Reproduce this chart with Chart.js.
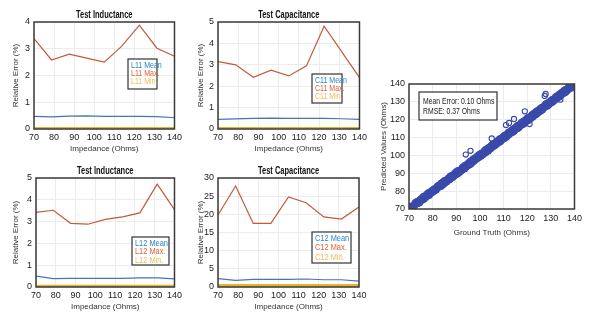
<!DOCTYPE html>
<html>
<head>
<meta charset="utf-8">
<script src="https://cdn.jsdelivr.net/npm/chart.js@4.4.1/dist/chart.umd.min.js"></script>
<style>
body { margin: 0; background: #fff; width: 600px; height: 334px; position: relative; overflow: hidden; }
canvas { position: absolute; }
</style>
</head>
<body>
<canvas id="l11" style="left:0px;top:0px"></canvas>
<canvas id="c11" style="left:185px;top:0px"></canvas>
<canvas id="l12" style="left:0px;top:156px"></canvas>
<canvas id="c12" style="left:185px;top:156px"></canvas>
<canvas id="scatter" style="left:370px;top:70px"></canvas>
<script>
// impedance sweep (Ohms)
const impedance = [70, 78.75, 87.5, 96.25, 105, 113.75, 122.5, 131.25, 140];

const l11Mean = [0.47, 0.45, 0.48, 0.49, 0.47, 0.47, 0.47, 0.46, 0.42];
const l11Max  = [3.38, 2.58, 2.80, 2.65, 2.50, 3.10, 3.88, 3.02, 2.72];
const l11Min  = [0.02, 0.02, 0.02, 0.02, 0.02, 0.02, 0.02, 0.02, 0.02];

const c11Mean = [0.45, 0.47, 0.50, 0.51, 0.50, 0.50, 0.50, 0.48, 0.45];
const c11Max  = [3.15, 3.00, 2.42, 2.75, 2.48, 2.95, 4.80, 3.60, 2.40];
const c11Min  = [0.02, 0.02, 0.02, 0.02, 0.02, 0.02, 0.02, 0.02, 0.02];

const l12Mean = [0.50, 0.38, 0.40, 0.40, 0.40, 0.40, 0.42, 0.42, 0.37];
const l12Max  = [3.42, 3.52, 2.92, 2.88, 3.10, 3.22, 3.40, 4.72, 3.55];
const l12Min  = [0.03, 0.03, 0.03, 0.03, 0.03, 0.03, 0.03, 0.03, 0.03];

const c12Mean = [2.3, 1.8, 2.1, 2.1, 2.1, 2.2, 2.0, 2.0, 1.6];
const c12Max  = [19.8, 27.8, 17.5, 17.5, 24.8, 23.2, 19.3, 18.7, 22.0];
const c12Min  = [0.4, 0.4, 0.4, 0.4, 0.4, 0.4, 0.4, 0.4, 0.4];

// ground truth vs predicted (Ohms), two predictions per truth value
const truthGrid = [
  70, 70.5, 71, 71.5, 72, 72.5, 73, 73.5, 74, 74.5,
  75, 75.5, 76, 76.5, 77, 77.5, 78, 78.5, 79, 79.5,
  80, 80.5, 81, 81.5, 82, 82.5, 83, 83.5, 84, 84.5,
  85, 85.5, 86, 86.5, 87, 87.5, 88, 88.5, 89, 89.5,
  90, 90.5, 91, 91.5, 92, 92.5, 93, 93.5, 94, 94.5,
  95, 95.5, 96, 96.5, 97, 97.5, 98, 98.5, 99, 99.5,
  100, 100.5, 101, 101.5, 102, 102.5, 103, 103.5, 104, 104.5,
  105, 105.5, 106, 106.5, 107, 107.5, 108, 108.5, 109, 109.5,
  110, 110.5, 111, 111.5, 112, 112.5, 113, 113.5, 114, 114.5,
  115, 115.5, 116, 116.5, 117, 117.5, 118, 118.5, 119, 119.5,
  120, 120.5, 121, 121.5, 122, 122.5, 123, 123.5, 124, 124.5,
  125, 125.5, 126, 126.5, 127, 127.5, 128, 128.5, 129, 129.5,
  130, 130.5, 131, 131.5, 132, 132.5, 133, 133.5, 134, 134.5,
  135, 135.5, 136, 136.5, 137, 137.5, 138, 138.5, 139, 139.5,
  140
];
const predA = [
  70.6, 69.8, 71.2, 70.6, 71.8, 72.2, 73.9, 72.9, 74.4, 73.5,
  75.7, 75.3, 77.0, 75.7, 77.3, 77.0, 78.9, 77.6, 79.5, 79.1,
  80.6, 80.0, 81.3, 80.6, 82.9, 82.2, 83.0, 82.6, 84.8, 83.7,
  85.9, 84.8, 86.4, 86.3, 87.8, 86.8, 88.5, 87.7, 89.2, 89.0,
  90.8, 89.6, 91.6, 90.7, 91.9, 91.8, 93.7, 92.4, 94.1, 93.9,
  95.5, 94.7, 96.9, 95.6, 97.8, 96.8, 98.4, 97.9, 99.6, 98.8,
  100.7, 99.6, 101.3, 100.6, 102.9, 101.7, 103.5, 102.4, 104.6, 103.8,
  105.9, 104.9, 106.4, 105.7, 107.6, 106.8, 108.9, 107.5, 109.3, 108.9,
  110.8, 109.6, 111.5, 110.6, 112.9, 111.8, 113.4, 112.7, 114.8, 113.6,
  115.6, 114.8, 116.9, 115.6, 117.5, 117.2, 118.8, 117.4, 119.6, 118.8,
  120.9, 119.5, 121.4, 120.7, 122.8, 121.6, 123.5, 122.6, 124.9, 123.7,
  125.6, 124.7, 126.8, 125.6, 127.4, 127.1, 128.9, 127.5, 129.5, 128.8,
  130.8, 129.6, 131.3, 130.7, 132.9, 131.8, 133.4, 132.6, 134.7, 133.8,
  135.6, 134.9, 136.8, 135.7, 137.5, 137.0, 138.9, 137.6, 139.4, 139.0,
  140.5
];
const predB = [
  69.6, 71.3, 70.1, 71.8, 71.4, 73.4, 72.8, 74.2, 73.2, 75.0,
  74.5, 75.9, 75.2, 77.3, 76.5, 78.3, 77.7, 79.2, 78.4, 80.1,
  79.4, 81.2, 80.3, 81.9, 81.6, 83.3, 82.7, 84.4, 83.1, 85.2,
  84.4, 86.1, 85.2, 87.0, 86.3, 88.4, 87.8, 89.1, 88.3, 90.3,
  89.5, 91.4, 90.1, 91.6, 91.3, 93.2, 92.9, 94.4, 93.3, 95.1,
  94.4, 96.3, 95.1, 97.0, 96.5, 98.3, 97.7, 99.2, 98.4, 100.3,
  99.5, 101.2, 100.2, 101.9, 101.3, 103.4, 102.8, 104.3, 103.3, 105.1,
  104.4, 106.4, 105.3, 107.0, 106.3, 108.2, 107.9, 109.4, 108.2, 110.2,
  109.6, 111.3, 110.2, 111.9, 111.4, 113.3, 112.7, 114.3, 113.2, 115.1,
  114.5, 116.3, 115.1, 117.0, 116.4, 118.4, 117.8, 119.2, 118.3, 120.2,
  119.5, 121.4, 120.2, 121.9, 121.3, 123.3, 122.8, 124.3, 123.2, 125.1,
  124.4, 126.3, 125.1, 127.0, 126.5, 128.3, 127.8, 129.4, 128.2, 130.1,
  129.5, 131.3, 130.2, 131.9, 131.4, 133.2, 132.8, 134.3, 133.2, 135.2,
  134.5, 136.3, 135.1, 137.0, 136.4, 138.3, 137.8, 139.3, 138.3, 140.0,
  139.6
];
const outlierTruth = [94, 96, 105, 111, 112.3, 114.4, 119, 127.4, 127.8, 121, 134];
const outlierPred  = [100.5, 102.6, 109.5, 117.0, 118.2, 120.4, 124.7, 133.3, 134.4, 117.6, 131.2];
const statLines = ['Mean Error: 0.10 Ohms', 'RMSE: 0.37 Ohms'];

const FONT = "'Liberation Sans', Arial, sans-serif";
const MEAN_COLOR = '#4a72b8';
const MAX_COLOR = '#c25a3c';
const MIN_COLOR = '#e8b22a';
const LEGEND_COLORS = ['#2a86c8', '#e0603c', '#f0bc5a'];

// condensed text, like the narrow face of the original
function narrowText(ctx, text, x, y, align, sx) {
  ctx.save();
  ctx.translate(x, y);
  ctx.scale(sx, 1);
  ctx.textAlign = align;
  ctx.fillText(text, 0, 0);
  ctx.restore();
}

// frame around the plot, title above it and optional text box inside it
const framePlugin = {
  id: 'frame',
  afterDraw(chart, args, opts) {
    const ctx = chart.ctx;
    const a = chart.chartArea;
    ctx.save();
    ctx.strokeStyle = '#3a3a3a';
    ctx.lineWidth = 1.5;
    ctx.strokeRect(a.left, a.top, a.right - a.left, a.bottom - a.top);
    ctx.textBaseline = 'middle';
    if (opts.title) {
      ctx.fillStyle = '#111';
      ctx.font = 'bold 10px ' + FONT;
      narrowText(ctx, opts.title, (a.left + a.right) / 2, 15, 'center', 0.75);
    }
    if (opts.box) {
      const b = opts.box;
      ctx.fillStyle = '#fff';
      ctx.fillRect(b.x, b.y, b.w, b.h);
      ctx.strokeStyle = '#333';
      ctx.lineWidth = 1.2;
      ctx.strokeRect(b.x, b.y, b.w, b.h);
      ctx.font = b.size + 'px ' + FONT;
      b.lines.forEach((t, i) => {
        ctx.fillStyle = b.colors[i];
        narrowText(ctx, t, b.x + b.pad, b.y + b.first + i * b.step, 'left', b.sx);
      });
    }
    ctx.restore();
  }
};

function toPoints(xs, ys) {
  return xs.map((x, i) => ({ x: x, y: ys[i] }));
}

function tickFont() {
  return { family: FONT, size: 9 };
}
function titleFont() {
  return { family: FONT, size: 8 };
}

function makePanel(id, w, h, title, names, mean, max, min, yMax, yStep, yWidth, padRight, box) {
  const canvas = document.getElementById(id);
  canvas.width = w;
  canvas.height = h;
  canvas.style.width = w + 'px';
  canvas.style.height = h + 'px';
  new Chart(canvas, {
    type: 'line',
    data: {
      datasets: [
        { label: names[0], data: toPoints(impedance, mean), borderColor: MEAN_COLOR, borderWidth: 1.2, pointRadius: 0, tension: 0 },
        { label: names[1], data: toPoints(impedance, max), borderColor: MAX_COLOR, borderWidth: 1.2, pointRadius: 0, tension: 0 },
        { label: names[2], data: toPoints(impedance, min), borderColor: MIN_COLOR, borderWidth: 3, pointRadius: 0, tension: 0 }
      ]
    },
    options: {
      responsive: false,
      animation: false,
      layout: { padding: { left: 0, right: padRight, top: 22, bottom: 0 } },
      plugins: {
        legend: { display: false },
        tooltip: { enabled: false },
        frame: {
          title: title,
          box: {
            x: box[0], y: box[1], w: box[2], h: box[3], first: box[4], step: box[5], size: box[6],
            pad: 3, sx: 0.78, lines: names, colors: LEGEND_COLORS
          }
        }
      },
      scales: {
        x: {
          type: 'linear', min: 70, max: 140,
          afterFit: (s) => { s.height = 31; },
          ticks: { stepSize: 10, maxRotation: 0, autoSkip: false, color: '#222', padding: 3, font: tickFont() },
          grid: { color: '#ececec', drawTicks: false },
          border: { display: false },
          title: { display: true, text: 'Impedance (Ohms)', color: '#333', font: titleFont(), padding: { top: 0, bottom: 6 } }
        },
        y: {
          min: 0, max: yMax,
          afterFit: (s) => { s.width = yWidth; },
          ticks: { stepSize: yStep, color: '#222', padding: 4, font: tickFont() },
          grid: { color: '#ececec', drawTicks: false },
          border: { display: false },
          title: { display: true, text: 'Relative Error (%)', color: '#333', font: titleFont(), padding: { top: 11, bottom: 0 } }
        }
      }
    },
    plugins: [framePlugin]
  });
}

makePanel('l11', 185, 160, 'Test Inductance', ['L11 Mean', 'L11 Max.', 'L11 Min.'],
  l11Mean, l11Max, l11Min, 4, 1, 34, 10, [128, 59, 29, 30, 7, 8, 9]);
makePanel('c11', 185, 160, 'Test Capacitance', ['C11 Mean', 'C11 Max.', 'C11 Min.'],
  c11Mean, c11Max, c11Min, 5, 1, 33, 10, [127, 74, 30, 29, 7, 8, 9]);
makePanel('l12', 185, 162, 'Test Inductance', ['L12 Mean', 'L12 Max.', 'L12 Min.'],
  l12Mean, l12Max, l12Min, 5, 1, 36, 8, [132, 81, 37, 28, 6, 8.5, 9.5]);
makePanel('c12', 185, 162, 'Test Capacitance', ['C12 Mean', 'C12 Max.', 'C12 Min.'],
  c12Mean, c12Max, c12Min, 30, 5, 33, 11, [127, 76, 39, 31, 6, 9.5, 9.5]);

// scatter of predictions
const sc = document.getElementById('scatter');
sc.width = 216; sc.height = 172;
sc.style.width = '216px'; sc.style.height = '172px';
const markerStyle = {
  pointStyle: 'circle', pointRadius: 2.6, borderWidth: 1.1,
  borderColor: '#3a4aaa', backgroundColor: 'rgba(0,0,0,0)'
};
new Chart(sc, {
  type: 'scatter',
  data: {
    datasets: [
      Object.assign({ data: toPoints(truthGrid, predA) }, markerStyle, { pointRadius: 3 }),
      Object.assign({ data: toPoints(truthGrid, predB) }, markerStyle, { pointRadius: 3 }),
      Object.assign({ data: toPoints(outlierTruth, outlierPred) }, markerStyle)
    ]
  },
  options: {
    responsive: false,
    animation: false,
    layout: { padding: { left: 0, right: 10, top: 14, bottom: 0 } },
    plugins: {
      legend: { display: false },
      tooltip: { enabled: false },
      frame: {
        box: {
          x: 49, y: 22, w: 78, h: 28, pad: 4, first: 9, step: 10, size: 9.5, sx: 0.72,
          lines: statLines, colors: ['#222', '#222']
        }
      }
    },
    scales: {
      x: {
        type: 'linear', min: 70, max: 140,
        afterFit: (s) => { s.height = 33; },
        ticks: { stepSize: 10, maxRotation: 0, autoSkip: false, color: '#222', padding: 4, font: tickFont() },
        grid: { color: '#ececec', drawTicks: false },
        border: { display: false },
        title: { display: true, text: 'Ground Truth (Ohms)', color: '#333', font: titleFont(), padding: { top: 0, bottom: 4 } }
      },
      y: {
        min: 70, max: 140,
        afterFit: (s) => { s.width = 39; },
        ticks: { stepSize: 10, color: '#222', padding: 4, font: tickFont() },
        grid: { color: '#ececec', drawTicks: false },
        border: { display: false },
        title: { display: true, text: 'Predicted Values (Ohms)', color: '#333', font: titleFont(), padding: { top: 9, bottom: 0 } }
      }
    }
  },
  plugins: [framePlugin]
});
</script>
</body>
</html>
